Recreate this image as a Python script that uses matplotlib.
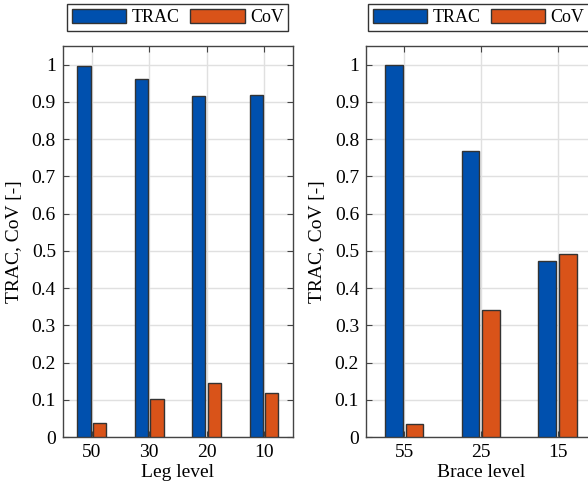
import matplotlib
matplotlib.use('Agg')
import matplotlib.pyplot as plt
import numpy as np

plt.rcParams['font.family'] = ['Liberation Serif', 'DejaVu Serif']

leg_levels = ['50', '30', '20', '10']
leg_trac = [0.997, 0.962, 0.917, 0.919]
leg_cov = [0.037, 0.102, 0.145, 0.118]

brace_levels = ['55', '25', '15']
brace_trac = [1.0, 0.768, 0.474]
brace_cov = [0.035, 0.342, 0.491]

blue = '#0050ae'
orange = '#d95319'
edge = '#333333'


def grouped(ax, labels, trac, cov, xlabel, leg_x=0.5):
  x = np.arange(1, len(labels) + 1)
  ax.bar(x - 0.135, trac, width=0.23, color=blue, edgecolor=edge, linewidth=1.0, label='TRAC', zorder=3)
  ax.bar(x + 0.135, cov, width=0.23, color=orange, edgecolor=edge, linewidth=1.0, label='CoV', zorder=3)
  ax.set_xlim(0.5, len(labels) + 0.5)
  ax.set_ylim(0, 1.05)
  ax.set_xticks(x)
  ax.set_xticklabels(labels)
  ax.set_yticks(np.arange(0, 1.01, 0.1))
  ax.set_yticklabels(['0'] + ['%.1f' % v for v in np.arange(0.1, 0.95, 0.1)] + ['1'])
  ax.grid(True, color='#e0e0e0', linewidth=1.0, zorder=0)
  ax.set_axisbelow(True)
  ax.tick_params(direction='in', top=True, right=True, labelsize=14, length=4, color='#444444', pad=5)
  for s in ax.spines.values():
    s.set_color('#444444')
    s.set_linewidth(1.0)
  ax.set_xlabel(xlabel, fontsize=14, labelpad=2)
  ax.set_ylabel('TRAC, CoV [-]', fontsize=14, labelpad=6)
  leg = ax.legend(loc='center', bbox_to_anchor=(leg_x, 1.073), ncol=2, fancybox=False,
                  edgecolor='#333333', fontsize=13, handlelength=3.0, handleheight=0.8,
                  handletextpad=0.3, columnspacing=0.6, borderpad=0.25, framealpha=1)
  leg.get_frame().set_linewidth(1.0)


fig = plt.figure(figsize=(5.88, 4.88), dpi=100)
ax1 = fig.add_axes([0.107, 0.1045, 0.391, 0.801])
ax2 = fig.add_axes([0.6224, 0.1045, 0.391, 0.801])
grouped(ax1, leg_levels, leg_trac, leg_cov, 'Leg level')
grouped(ax2, brace_levels, brace_trac, brace_cov, 'Brace level', leg_x=0.49)
fig.savefig('out.png', dpi=100)
